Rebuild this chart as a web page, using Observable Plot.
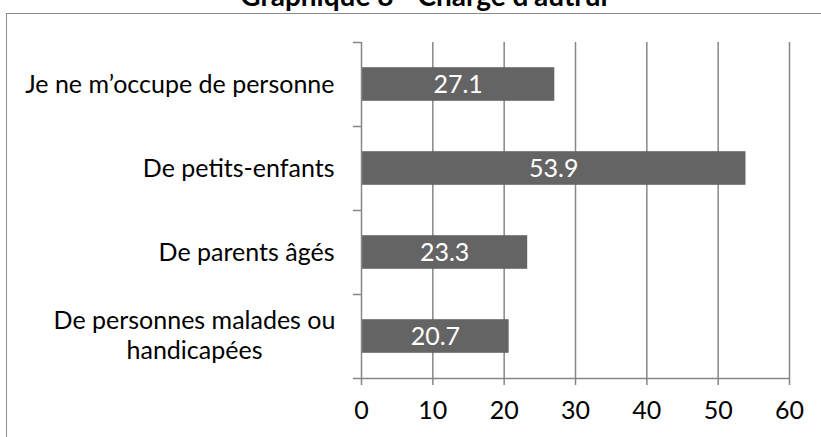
<!DOCTYPE html>
<html><head><meta charset="utf-8">
<script src="https://cdn.jsdelivr.net/npm/d3@7"></script>
<script src="https://cdn.jsdelivr.net/npm/@observablehq/plot@0.6"></script>
<style>
html,body{margin:0;padding:0;background:#fff;overflow:hidden;}
#wrap{position:relative;width:821px;height:437px;overflow:hidden;font-family:Lato,"Open Sans",sans-serif;}
#frame{position:absolute;left:6px;top:13px;width:830px;height:440px;border:1.5px solid #8a8a8a;box-sizing:border-box;}
#title{position:absolute;left:0;width:848px;top:-22px;text-align:center;font-weight:bold;font-size:28px;line-height:34px;color:#000;}
#chart{position:absolute;left:0;top:0;}
</style></head>
<body><div id="wrap"><div id="frame"></div><div id="title">Graphique 8 - Charge d’autrui</div><div id="chart"></div></div>
<script>
const categories = ["Je ne m’occupe de personne", "De petits-enfants", "De parents âgés", "De personnes malades ou\nhandicapées"];
const values = [27.1, 53.9, 23.3, 20.7];
const xTicks = [0, 10, 20, 30, 40, 50, 60];

const data = categories.map((c, i) => ({cat: c, idx: i, value: values[i]}));
const single = data.filter(d => !d.cat.includes("\n"));
const multi = data.filter(d => d.cat.includes("\n"));
const gray = "#868686";
const font = "Lato, 'Open Sans', sans-serif";
const fs = 25;

const chart = Plot.plot({
  width: 821, height: 437,
  marginLeft: 361, marginRight: 32, marginTop: 42, marginBottom: 59,
  style: {fontFamily: font, fontSize: fs + "px", color: "#000", background: "transparent"},
  x: {domain: [0, 60], label: null},
  y: {domain: [0, categories.length], reverse: true, label: null},
  marks: [
    Plot.gridX(xTicks.slice(1), {stroke: gray, strokeOpacity: 1, strokeWidth: 1.5}),
    Plot.rectX(data, {x1: 0, x2: "value", y1: d => d.idx + 0.3, y2: d => d.idx + 0.7, fill: "#646464"}),
    Plot.ruleX([0], {y1: 0, y2: categories.length, stroke: gray, strokeWidth: 1.5}),
    Plot.ruleY([categories.length], {x1: 0, x2: 60, stroke: gray, strokeWidth: 1.5}),
    Plot.axisY(d3.range(categories.length + 1), {tickSize: 8, tickFormat: () => "", stroke: gray, strokeWidth: 1.5, label: null}),
    Plot.axisX(xTicks, {tickSize: 7, tickPadding: 16, stroke: gray, strokeWidth: 1.5, fill: "#000", fontSize: fs, label: null}),
    Plot.text(data, {x: d => d.value / 2, y: d => d.idx + 0.5, text: d => d.value.toFixed(1), fill: "#fff", fontSize: fs}),
    Plot.text(single, {x: 0, y: d => d.idx + 0.5, text: "cat", textAnchor: "end", dx: -27, fill: "#000", fontSize: fs}),
    Plot.text(multi, {x: 0, y: d => d.idx + 0.5, text: "cat", textAnchor: "middle", dx: -167, dy: -2, lineHeight: 1.17, fill: "#000", fontSize: fs})
  ]
});
document.getElementById("chart").appendChild(chart);
</script></body></html>
